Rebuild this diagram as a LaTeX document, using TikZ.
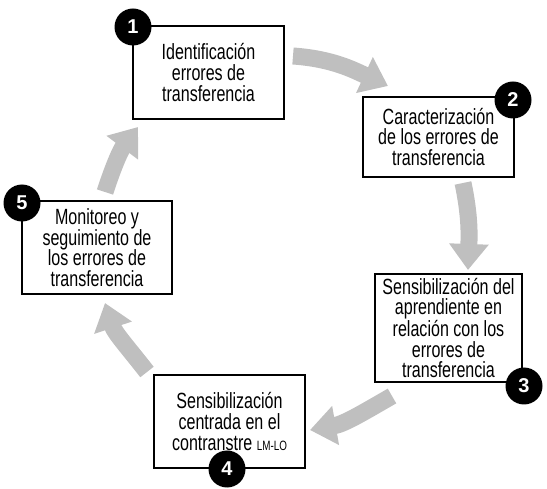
\documentclass[tikz,border=0pt]{standalone}
\usepackage{fontspec}
\setmainfont[FakeStretch=0.73]{Liberation Sans}
\newfontfamily\numfont{Liberation Sans}
\usetikzlibrary{arrows.meta}
\definecolor{arrowgray}{RGB}{191,191,191}
\begin{document}
\begin{tikzpicture}[x=1pt,y=1pt,
  stage/.style={draw=black, line width=2pt, fill=white, align=center, inner sep=0pt,
    font=\fontsize{22}{20.7}\selectfont},
  badge/.style={circle, fill=black, text=white, minimum size=37pt, inner sep=0pt,
    font=\numfont\bfseries\fontsize{20}{20}\selectfont},
  flow/.style={draw=arrowgray, line width=17pt, -{Triangle[width=38pt,length=26pt]}}]
\useasboundingbox (0,0) rectangle (547,-489);

% arrows (behind boxes)
\coordinate (a1s) at (293,-56);  \coordinate (a1e) at (388,-86);
\coordinate (a2s) at (463,-183); \coordinate (a2e) at (468,-270);
\coordinate (a3s) at (392,-396); \coordinate (a3e) at (310,-430);
\coordinate (a4s) at (147,-372); \coordinate (a4e) at (105,-303);
\coordinate (a5s) at (105,-192); \coordinate (a5e) at (138,-127);

\draw[flow] (a1s) to[out=-4, in=155] (a1e);
\draw[flow] (a2s) to[out=-78, in=88] (a2e);
\draw[flow] (a3s) to[out=210, in=10] (a3e);
\draw[flow] (a4s) to[out=128, in=-72] (a4e);
\draw[flow] (a5s) to[out=72, in=-127] (a5e);

% boxes
\node[stage, minimum width=151pt, minimum height=93pt] (b1) at (208.5,-72.5)
  {Identificación\\errores de\\transferencia};
\node[stage, minimum width=151pt, minimum height=80pt] (b2) at (438.5,-137)
  {Caracterización\\de los errores de\\transferencia};
\node[stage, minimum width=147pt, minimum height=108pt] (b3) at (448.5,-328)
  {Sensibilización del\\aprendiente en\\relación con los\\errores de\\transferencia};
\node[stage, minimum width=151pt, minimum height=93pt] (b4) at (229.5,-421.5)
  {Sensibilización\\centrada en el\\contranstre {\fontsize{13.5}{13.5}\selectfont LM-LO}};
\node[stage, minimum width=150pt, minimum height=93pt] (b5) at (97,-247.5)
  {Monitoreo y\\seguimiento de\\los errores de\\transferencia};

% badges
\node[badge] (n1) at (133,-27) {1};
\node[badge] (n2) at (513,-100) {2};
\node[badge] (n3) at (524,-386) {3};
\node[badge] (n4) at (227,-469) {4};
\node[badge] (n5) at (22,-203) {5};
\end{tikzpicture}
\end{document}
